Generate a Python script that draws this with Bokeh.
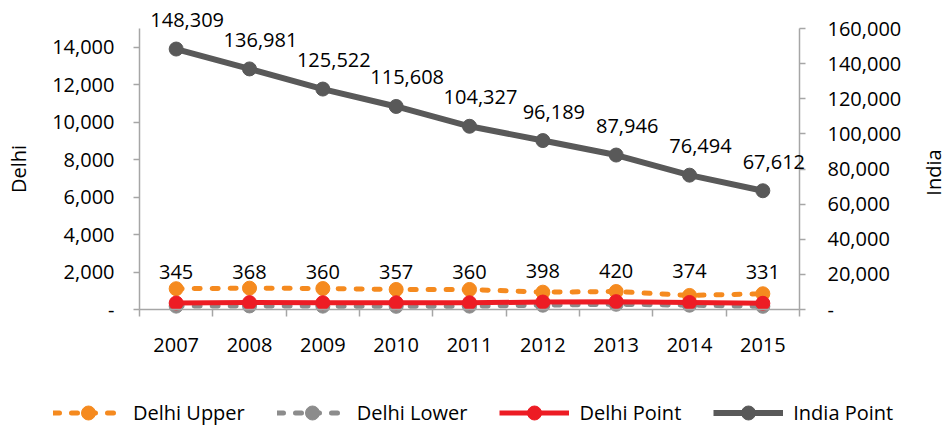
import math
from bokeh.plotting import figure
from bokeh.models import (Range1d, LinearAxis, FixedTicker, NumeralTickFormatter,
                          Legend, LegendItem, ColumnDataSource, LabelSet, Label)
from bokeh.core.properties import value
from bokeh.embed import file_html
from bokeh.resources import INLINE

# ---- data ----
years = [2007, 2008, 2009, 2010, 2011, 2012, 2013, 2014, 2015]
delhi_upper = [1110, 1140, 1120, 1070, 1070, 925, 960, 750, 840]
delhi_lower = [180, 190, 180, 170, 180, 230, 280, 230, 170]
delhi_point = [345, 368, 360, 357, 360, 398, 420, 374, 331]
india_point = [148309, 136981, 125522, 115608, 104327, 96189, 87946, 76494, 67612]
left_ticks = [0, 2000, 4000, 6000, 8000, 10000, 12000, 14000]
right_ticks = [0, 20000, 40000, 60000, 80000, 100000, 120000, 140000, 160000]
left_max = 15000
right_max = 160000
series_names = ["Delhi Upper", "Delhi Lower", "Delhi Point", "India Point"]
left_title = "Delhi"
right_title = "India"

FONT = "Open Sans"
FS = "20px"
ORANGE = "#F58A1F"
LGRAY = "#8C8C8C"
RED = "#ED1C24"
DGRAY = "#595959"
AXIS = "#A6A6A6"

# ---- layout (screen pixels) ----
W, H = 946, 430
PLOT_L, PLOT_R = 139, 799      # x of the two value axes
PLOT_T, PLOT_B = 28, 309       # y of axis maximum and of zero

x0, x1 = years[0] - 0.5, years[-1] + 0.5
kx = (PLOT_R - PLOT_L) / (x1 - x0)
ky_l = (PLOT_B - PLOT_T) / left_max
ky_r = (PLOT_B - PLOT_T) / right_max

src = ColumnDataSource(dict(
    year=years, upper=delhi_upper, lower=delhi_lower, point=delhi_point, india=india_point,
    point_lbl=[f"{v:,}" for v in delhi_point],
    india_lbl=[f"{v:,}" for v in india_point],
))

p = figure(width=W, height=H, output_backend="svg", toolbar_location=None,
           x_range=Range1d(x0 - PLOT_L / kx, x1 + (W - PLOT_R) / kx),
           y_range=Range1d(-(H - PLOT_B) / ky_l, left_max + PLOT_T / ky_l),
           min_border=0, min_border_left=0, min_border_right=0,
           min_border_top=0, min_border_bottom=0,
           x_axis_location=None, y_axis_location=None)
p.extra_y_ranges = {"india": Range1d(-(H - PLOT_B) / ky_r, right_max + PLOT_T / ky_r)}
p.xgrid.visible = False
p.ygrid.visible = False
p.outline_line_color = None
p.background_fill_color = "white"
p.border_fill_color = "white"

# x axis at zero: labels at years, boundary ticks as minor ticks
boundaries = [y - 0.5 for y in years] + [years[-1] + 0.5]
xa = LinearAxis(fixed_location=0, bounds=(x0, x1))
xa.ticker = FixedTicker(ticks=years, minor_ticks=boundaries)
xa.major_tick_out = 0
xa.major_tick_in = 0
xa.minor_tick_out = 7
xa.minor_tick_in = 0
xa.minor_tick_line_color = AXIS
xa.minor_tick_line_width = 1.5
xa.axis_line_color = AXIS
xa.axis_line_width = 1.5
xa.major_label_standoff = 21
xa.major_label_text_font = FONT
xa.major_label_text_font_size = FS
xa.major_label_text_color = "black"
p.add_layout(xa, "below")

# left axis (Delhi)
ya = LinearAxis(fixed_location=x0, bounds=(0, left_max), axis_label=left_title)
ya.ticker = FixedTicker(ticks=left_ticks, minor_ticks=[])
ya.formatter = NumeralTickFormatter(format="0,0")
ya.major_label_overrides = {0: "-"}
p.add_layout(ya, "left")

# right axis (India)
ra = LinearAxis(y_range_name="india", fixed_location=x1, bounds=(0, right_max))
ra.ticker = FixedTicker(ticks=right_ticks, minor_ticks=[])
ra.formatter = NumeralTickFormatter(format="0,0")
ra.major_label_overrides = {0: "-"}
p.add_layout(ra, "right")

for ax, standoff, lstand in ((ya, 19, 17), (ra, 22, 18)):
    ax.axis_line_color = AXIS
    ax.axis_line_width = 1.5
    ax.major_tick_line_color = AXIS
    ax.major_tick_line_width = 1.5
    ax.major_tick_out = 6
    ax.major_tick_in = 0
    ax.minor_tick_out = 0
    ax.major_label_standoff = standoff
    ax.major_label_text_font = FONT
    ax.major_label_text_font_size = FS
    ax.major_label_text_color = "black"
    ax.axis_label_standoff = lstand
    ax.axis_label_text_font = FONT
    ax.axis_label_text_font_size = FS
    ax.axis_label_text_font_style = "normal"
    ax.axis_label_text_color = "black"

# right axis title, reading bottom-to-top like the left one
p.add_layout(Label(x=933, y=H - 172, x_units="screen", y_units="screen", text=right_title,
                   angle=math.pi / 2, text_align="center", text_baseline="middle",
                   text_font=FONT, text_font_size=FS, text_color="black"))

# series
r1l = p.line("year", "upper", source=src, line_color=ORANGE, line_width=5, line_dash="6 12", line_cap="round")
r1m = p.scatter("year", "upper", source=src, size=14, color=ORANGE)
r2l = p.line("year", "lower", source=src, line_color=LGRAY, line_width=5, line_dash="6 12", line_cap="round")
r2m = p.scatter("year", "lower", source=src, size=14, color=LGRAY)
r3l = p.line("year", "point", source=src, line_color=RED, line_width=5)
r3m = p.scatter("year", "point", source=src, size=14, color=RED)
r4l = p.line("year", "india", source=src, y_range_name="india", line_color=DGRAY, line_width=6)
r4m = p.scatter("year", "india", source=src, y_range_name="india", size=14, color=DGRAY)

# data labels
p.add_layout(LabelSet(x="year", y="point", text="point_lbl", source=src, y_offset=31,
                      text_align="center", text_baseline="middle", text_font=value(FONT),
                      text_font_size=value(FS), text_color="black"))
p.add_layout(LabelSet(x="year", y="india", text="india_lbl", source=src, y_range_name="india",
                      x_offset=11, y_offset=29, text_align="center", text_baseline="middle",
                      text_font=value(FONT), text_font_size=value(FS), text_color="black"))

legend = Legend(items=[
    LegendItem(label=series_names[0], renderers=[r1l, r1m]),
    LegendItem(label=series_names[1], renderers=[r2l, r2m]),
    LegendItem(label=series_names[2], renderers=[r3l, r3m]),
    LegendItem(label=series_names[3], renderers=[r4l, r4m]),
], orientation="horizontal", location=(53, 0), glyph_width=70, glyph_height=35,
    label_standoff=10, spacing=32, padding=0, margin=0, border_line_color=None,
    background_fill_alpha=0, label_text_font=FONT, label_text_font_size=FS,
    label_text_color="black", label_height=20, label_text_baseline="middle")
p.add_layout(legend)

open("out.html", "w").write(file_html(p, INLINE))
